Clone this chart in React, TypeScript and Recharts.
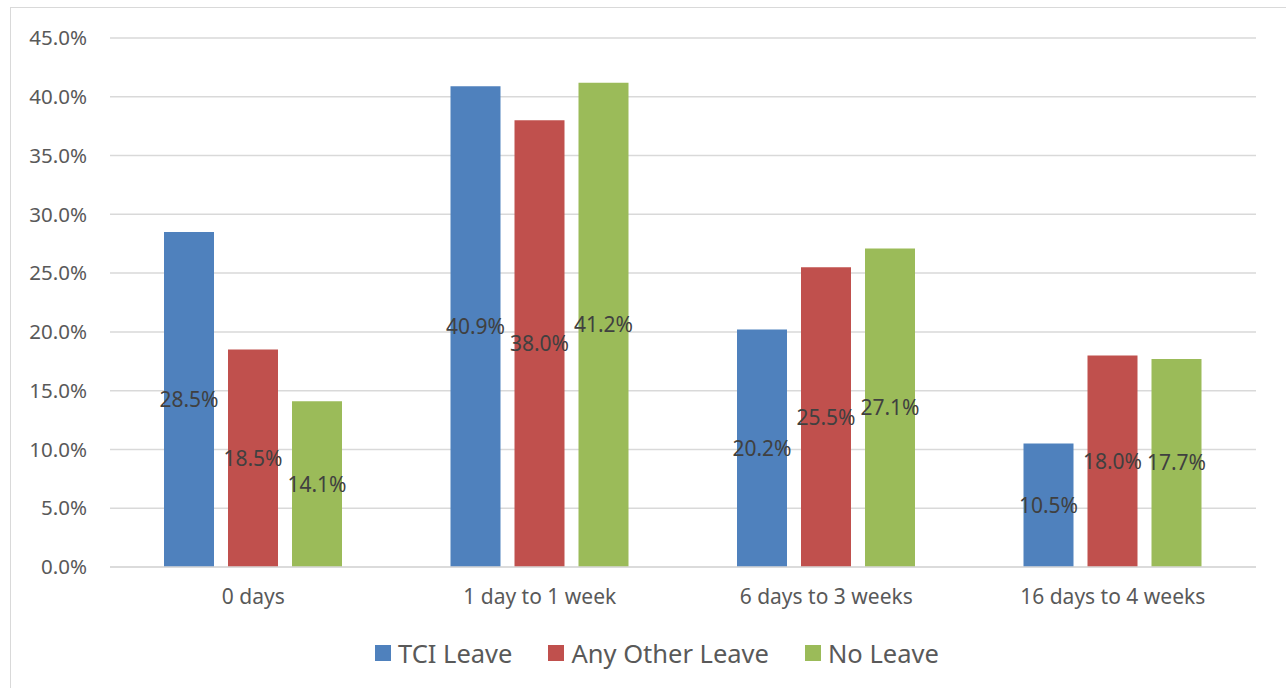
import React from 'react';
import { BarChart, Bar, XAxis, YAxis, CartesianGrid, Legend, LabelList } from 'recharts';

const categories = ['0 days', '1 day to 1 week', '6 days to 3 weeks', '16 days to 4 weeks'];
const tciLeave = [28.5, 40.9, 20.2, 10.5];
const otherLeave = [18.5, 38.0, 25.5, 18.0];
const noLeave = [14.1, 41.2, 27.1, 17.7];
const yTicks = [0, 5, 10, 15, 20, 25, 30, 35, 40, 45];

const series = [
  { key: 'tci', name: 'TCI Leave', color: '#4f81bd' },
  { key: 'other', name: 'Any Other Leave', color: '#c0504d' },
  { key: 'none', name: 'No Leave', color: '#9bbb59' },
];

const data = categories.map((c, i) => ({ name: c, tci: tciLeave[i], other: otherLeave[i], none: noLeave[i] }));

const FONT = '"Noto Sans", "Open Sans", sans-serif';

const LegendContent = () => (
  <div style={{ display: 'flex', justifyContent: 'flex-start', paddingLeft: 375, gap: 36, fontFamily: FONT, fontSize: 25.5, color: '#595959', lineHeight: '30px' }}>
    {series.map(s => (
      <div key={s.key} style={{ display: 'flex', alignItems: 'center', gap: 7 }}>
        <div style={{ width: 16, height: 16, background: s.color }} />
        <span>{s.name}</span>
      </div>
    ))}
  </div>
);

const App = () => {
  return (
    <div style={{ position: 'fixed', left: 0, top: 0, width: 1286, height: 688, background: '#fff', overflow: 'hidden' }}>
      <div style={{ position: 'absolute', left: 10, top: 7, width: 1290, height: 700, border: '1px solid #d9d9d9' }} />
      <div style={{ position: 'absolute', left: 0, top: 0 }}>
        <BarChart width={1286} height={688} data={data} margin={{ top: 38, right: 30, left: 0, bottom: 20 }}
          barCategoryGap={54} barGap={14}>
          <CartesianGrid vertical={false} stroke="#d9d9d9" strokeWidth={1.5} />
          <XAxis dataKey="name" height={71} axisLine={{ stroke: '#d9d9d9', strokeWidth: 1.5 }} tickLine={false}
            tick={{ fill: '#595959', fontSize: 21, fontFamily: FONT }} tickMargin={16} />
          <YAxis width={110} domain={[0, 45]} ticks={yTicks} axisLine={false} tickLine={false}
            tickFormatter={(v: number) => v.toFixed(1) + '%'} tickMargin={17}
            tick={{ fill: '#595959', fontSize: 20.5, fontFamily: FONT }} />
          <Legend verticalAlign="bottom" height={30} content={<LegendContent />} />
          {series.map(s => (
            <Bar key={s.key} dataKey={s.key} name={s.name} fill={s.color} barSize={50} isAnimationActive={false}>
              <LabelList dataKey={s.key} position="center" fill="#404040" fontSize={21} fontFamily={FONT}
                formatter={(v: number) => v.toFixed(1) + '%'} />
            </Bar>
          ))}
        </BarChart>
      </div>
    </div>
  );
};

export default App;
